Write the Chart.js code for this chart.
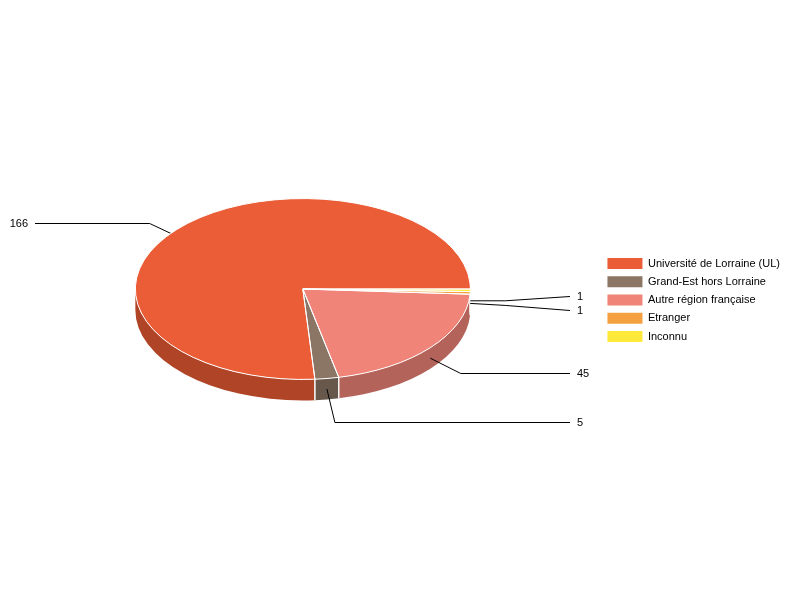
<!DOCTYPE html>
<html><head><meta charset="utf-8">
<style>html,body{margin:0;padding:0;background:#fff}#w{width:800px;height:600px}</style>
<script src="https://cdn.jsdelivr.net/npm/chart.js@4/dist/chart.umd.min.js"></script>
</head><body><div id="w"><canvas id="c" width="800" height="600"></canvas></div>
<script>
const categories = ["Université de Lorraine (UL)","Grand-Est hors Lorraine","Autre région française","Etranger","Inconnu"];
const values = [166,5,45,1,1];
const colors = ["#EB5D37","#8B7666","#F08478","#F4A040","#FFE93B"];
const wallColors = ["#AF4526","#68584C","#B3635A","#B67830","#BFAE2C"];

const tilt = 0.54, depth = 21;
const elbowOffsets = [[-30.5,-15],[8,32],[30.5,15],[35,2],[35,0]];
const labelRows = [223,422,373,310,296];
const leftEnd = 35, rightEnd = 570, textGap = 7;
const font = '11px "Liberation Sans", Arial, sans-serif';

function screenSpan(a){ // mirrored, so screen angle = PI - canvas angle
  let s = Math.PI - a.endAngle, e = Math.PI - a.startAngle;
  while (e <= 1e-9) { s += 2*Math.PI; e += 2*Math.PI; }
  return [s,e];
}
const pie3d = {
  id:'pie3d',
  afterLayout(chart){ const l = chart.legend; l.top += 11; l.bottom += 11; },
  beforeDatasetsDraw(chart){
    const ctx = chart.ctx, arcs = chart.getDatasetMeta(0).data;
    const cx = arcs[0].x, cy = arcs[0].y, r = arcs[0].outerRadius, ry = r*tilt;
    ctx.save();
    arcs.forEach((a,i)=>{
      const [s,e] = screenSpan(a), lo = Math.max(s,0), hi = Math.min(e,Math.PI);
      if (hi <= lo) return;
      ctx.beginPath();
      ctx.ellipse(cx,cy,r,ry,0,lo,hi);
      ctx.ellipse(cx,cy+depth,r,ry,0,hi,lo,true);
      ctx.closePath();
      ctx.fillStyle = wallColors[i];
      ctx.fill();
    });
    ctx.strokeStyle = '#fff'; ctx.lineWidth = 1;
    arcs.forEach(a=>{
      const [s,e] = screenSpan(a);
      [s,e].forEach(t=>{
        if (t > 0.02 && t < Math.PI-0.02) {
          const x = cx + r*Math.cos(t), y = cy + ry*Math.sin(t);
          ctx.beginPath(); ctx.moveTo(x,y); ctx.lineTo(x,y+depth); ctx.stroke();
        }
      });
    });
    ctx.strokeStyle = '#000'; ctx.fillStyle = '#000'; ctx.font = font; ctx.textBaseline = 'middle';
    arcs.forEach((a,i)=>{
      const [s,e] = screenSpan(a), m = (s+e)/2;
      const x0 = cx + r*Math.cos(m), y0 = cy + ry*Math.sin(m) + depth/2;
      const x1 = x0 + elbowOffsets[i][0], y1 = y0 + elbowOffsets[i][1];
      const left = elbowOffsets[i][0] < 0, xe = left ? leftEnd : rightEnd, ye = labelRows[i]+0.5;
      ctx.beginPath(); ctx.moveTo(x0,y0); ctx.lineTo(x1, i===3||i===4 ? y1 : ye); ctx.lineTo(xe,ye); ctx.stroke();
      ctx.textAlign = left ? 'right' : 'left';
      ctx.fillText(String(values[i]), left ? xe-textGap : xe+textGap, labelRows[i]+1);
    });
    ctx.restore();
    ctx.save();
    ctx.translate(cx,cy); ctx.scale(-1,tilt); ctx.translate(-cx,-cy);
  },
  afterDatasetsDraw(chart){
    const ctx = chart.ctx, arcs = chart.getDatasetMeta(0).data;
    ctx.restore();
    const cx = arcs[0].x, cy = arcs[0].y, r = arcs[0].outerRadius, ry = r*tilt;
    ctx.save();
    ctx.strokeStyle = '#fff'; ctx.lineWidth = 1;
    arcs.forEach(a=>{
      const [s,e] = screenSpan(a);
      ctx.beginPath(); ctx.moveTo(cx,cy);
      ctx.ellipse(cx,cy,r,ry,0,s,e);
      ctx.closePath(); ctx.stroke();
    });
    ctx.restore();
  }
};
new Chart(document.getElementById('c'),{
  type:'pie',
  data:{labels:categories,datasets:[{data:values,backgroundColor:colors,borderWidth:0,hoverOffset:0}]},
  options:{
    responsive:false,animation:false,rotation:270,radius:167.5,
    layout:{padding:{left:5.5,right:10,bottom:22,top:0}},
    plugins:{
      tooltip:{enabled:false},
      legend:{position:'right',labels:{boxWidth:35,boxHeight:11,padding:7.25,color:'#000',
        font:{family:'"Liberation Sans", Arial, sans-serif',size:11}}}
    }
  },
  plugins:[pie3d]
});
</script></body></html>
